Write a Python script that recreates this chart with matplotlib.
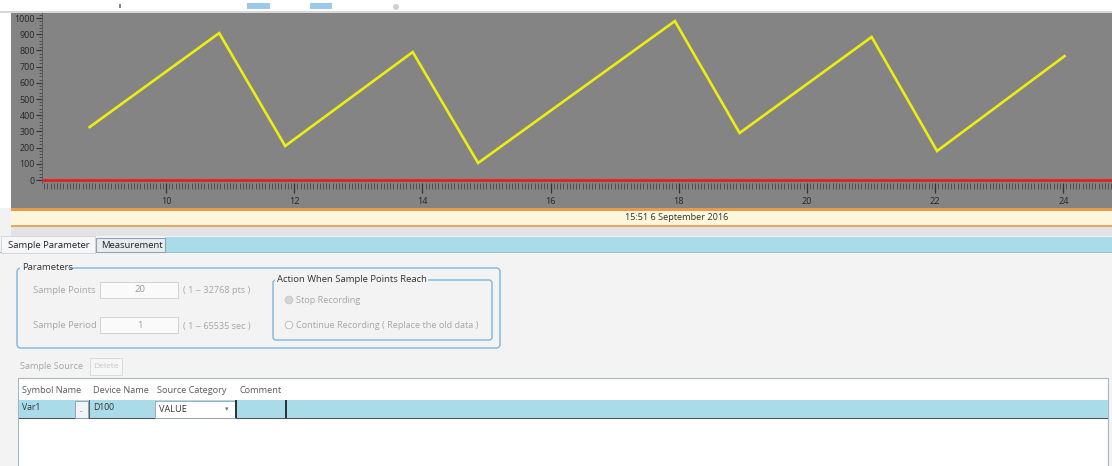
import matplotlib
matplotlib.use("Agg")
import matplotlib.pyplot as plt
from matplotlib.patches import Rectangle, FancyBboxPatch, Circle
from matplotlib.ticker import MultipleLocator
import numpy as np

# ---------------- data ----------------
time_s = [8.81, 10.83, 11.86, 13.85, 14.87, 17.94, 18.95, 21.01, 22.03, 24.02]
values = [327, 907, 210, 790, 105, 981, 290, 883, 179, 765]
baseline = [0, 0]
y_ticks = [0, 100, 200, 300, 400, 500, 600, 700, 800, 900, 1000]
x_ticks = [10, 12, 14, 16, 18, 20, 22, 24]
date_label = "15:51 6 September 2016"
tab_labels = ["Sample Parameter", "Measurement"]
table_headers = ["Symbol Name", "Device Name", "Source Category", "Comment"]
row_values = ["Var1", "D100", "VALUE"]

W, H = 1112, 466
fig = plt.figure(figsize=(W / 100, H / 100), dpi=100)
fig.patch.set_facecolor("white")
FONT = ["Open Sans", "DejaVu Sans"]

ui = fig.add_axes([0, 0, 1, 1])
ui.set_xlim(0, W)
ui.set_ylim(H, 0)
ui.axis("off")


def rect(x0, y0, x1, y1, fc="none", ec="none", lw=0.8, z=1):
    ui.add_patch(Rectangle((x0, y0), x1 - x0, y1 - y0, facecolor=fc,
                           edgecolor=ec, linewidth=lw, zorder=z))


def txt(x, y, s, size=6.8, color="#333333", ha="left", va="center", z=5):
    ui.text(x, y, s, fontsize=size, color=color, ha=ha, va=va,
            family=FONT, zorder=z)


# top strip
rect(0, 0, W, 12, fc="#ffffff")
rect(0, 11, W, 13, fc="#d8d8d8")
rect(247, 3, 270, 9, fc="#9cc8ec")
rect(310, 3, 332, 9, fc="#9cc8ec")
ui.add_patch(Circle((396, 7), 3, facecolor="#d0d0d0", edgecolor="none", zorder=2))
rect(119, 4, 120.5, 8, fc="#888888")

# gray chart region
rect(11, 13, W, 208, fc="#848484")
# date band
rect(11, 208, W, 210.5, fc="#e89a4a")
rect(11, 210.5, W, 224.5, fc="#fbf6dc")
rect(11, 224.5, W, 226.5, fc="#e8a85c")
txt(677, 217.5, date_label, size=6.6, color="#333333", ha="center")
# gray strip
rect(0, 226.5, W, 236, fc="#e3e3e7")
rect(0, 208, 11, 236, fc="#f2f2f2")

# body
rect(0, 236, W, H, fc="#f3f3f3", z=0.5)
# tab row
rect(165, 237, W, 252, fc="#a9dbe8")
rect(0, 252, W, 253.2, fc="#9cc0cc")
rect(1, 236, 95, 253, fc="#f7f7f7", ec="#c8d4da", lw=0.6)
rect(96, 238, 165, 252, fc="#e7ecef", ec="#8ea4b2", lw=0.8)
txt(8, 245.5, tab_labels[0], size=6.8, color="#222222")
txt(101, 245.5, tab_labels[1], size=6.8, color="#222222")

# Parameters group
ui.add_patch(FancyBboxPatch((17, 268), 483, 80, boxstyle="round,pad=0,rounding_size=4",
                            facecolor="none", edgecolor="#7db6de", linewidth=1.0, zorder=2))
rect(20, 262, 68, 273, fc="#f3f3f3", z=3)
txt(22, 267, "Parameters", size=6.8, color="#333333")

txt(33, 290.5, "Sample Points", size=6.8, color="#a6a6a6")
rect(100, 282, 178, 298, fc="#fafafa", ec="#d2d2d2", lw=0.7)
txt(140, 290, "20", size=6.8, color="#9a9a9a", ha="center")
txt(183, 290.5, "( 1 ~ 32768 pts )", size=6.6, color="#a6a6a6")

txt(33, 326, "Sample Period", size=6.8, color="#a6a6a6")
rect(100, 317, 178, 333, fc="#fafafa", ec="#d2d2d2", lw=0.7)
txt(140, 325, "1", size=6.8, color="#9a9a9a", ha="center")
txt(183, 326, "( 1 ~ 65535 sec )", size=6.6, color="#a6a6a6")

ui.add_patch(FancyBboxPatch((273, 280), 219, 60, boxstyle="round,pad=0,rounding_size=3",
                            facecolor="none", edgecolor="#7db6de", linewidth=1.0, zorder=2))
rect(275, 273, 428, 286, fc="#f3f3f3", z=3)
txt(277, 279.5, "Action When Sample Points Reach", size=6.8, color="#333333")
ui.add_patch(Circle((289, 300), 3.8, facecolor="#d6d6d6", edgecolor="#c4c4c4", lw=0.6, zorder=3))
txt(296, 300.5, "Stop Recording", size=6.6, color="#a6a6a6")
ui.add_patch(Circle((289, 325), 3.8, facecolor="#f8f8f8", edgecolor="#b8b8b8", lw=0.6, zorder=3))
txt(296, 325.5, "Continue Recording ( Replace the old data )", size=6.6, color="#a6a6a6")

# sample source
txt(20, 366.5, "Sample Source", size=6.6, color="#a6a6a6")
rect(90, 358, 122, 375, fc="#f6f6f6", ec="#d6d6d6", lw=0.6)
txt(106, 366.5, "Delete", size=6.0, color="#c8c8c8", ha="center")

# table
rect(18, 378, 1108, H + 2, fc="#ffffff", ec="#a9b6c0", lw=0.8)
hx = [22, 93, 157, 240]
for x, s in zip(hx, table_headers):
    txt(x, 390.5, s, size=6.6, color="#5a5a5a")
rect(19, 400, 1107.5, 418, fc="#a9dbe8")
rect(19, 417.5, 1107.5, 419, fc="#4a5258")
txt(22, 407, row_values[0], size=6.2, color="#333333")
rect(75, 401, 88, 417.5, fc="#f0f4f6", ec="#8c9aa4", lw=0.6)
txt(81.5, 411, "..", size=5, color="#555555", ha="center")
rect(89, 400, 90.3, 418, fc="#5a6268")
txt(93, 407, row_values[1], size=6.2, color="#333333")
rect(155, 401, 235, 418, fc="#ffffff", ec="#9aa4aa", lw=0.6)
txt(159, 410, row_values[2], size=6.6, color="#333333")
txt(227, 410, "\u25be", size=5, color="#777777", ha="center")
rect(235, 400, 236.8, 418, fc="#2e3438")
rect(285, 400, 286.8, 418, fc="#2e3438")

# ---------------- chart ----------------
ax = fig.add_axes([42 / W, 1 - 183 / H, (W - 42) / W, 170 / H])
ax.set_facecolor("#848484")
ax.plot(time_s, values, color="#eded10", lw=1.9, solid_joinstyle="miter", zorder=3)
ax.plot([8.0, 25.0], baseline, color="#e3201b", lw=2.0, zorder=2)
ax.set_xlim(8.066, 24.76)
ax.set_ylim(-18.5, 1031)

ax.set_yticks(y_ticks)
ax.set_yticklabels([str(v) for v in y_ticks], family=FONT, fontsize=6.4, color="#262626")
ax.yaxis.set_minor_locator(MultipleLocator(20))
ax.set_xticks(x_ticks)
ax.set_xticklabels([str(v) for v in x_ticks], family=FONT, fontsize=6.6, color="#262626")
ax.xaxis.set_minor_locator(MultipleLocator(0.05))

ax.tick_params(axis="y", which="major", direction="out", length=4, width=0.8,
               color="#333333", pad=1)
ax.tick_params(axis="y", which="minor", direction="out", length=2, width=0.6,
               color="#444444")
ax.tick_params(axis="x", which="major", direction="out", length=7, width=0.9,
               color="#333333", pad=3)
ax.tick_params(axis="x", which="minor", direction="out", length=4, width=0.5,
               color="#3a3a3a")
for s in ["top", "right", "bottom"]:
    ax.spines[s].set_visible(False)
ax.spines["left"].set_color("#555555")
ax.spines["left"].set_linewidth(0.6)

fig.savefig("out.png", dpi=100, facecolor=fig.get_facecolor())
